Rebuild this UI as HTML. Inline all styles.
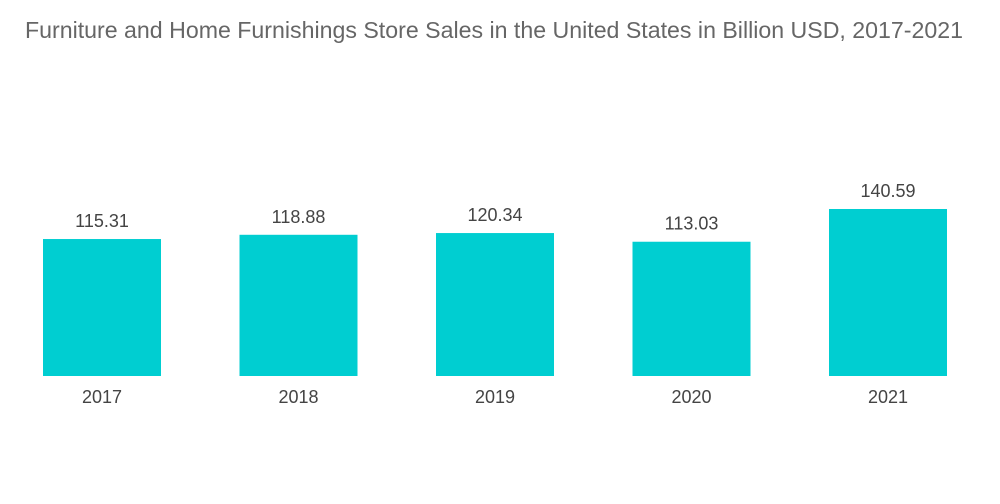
<!DOCTYPE html>
<html>
<head>
<meta charset="utf-8">
<style>
  html, body { margin: 0; padding: 0; background: #fff; }
  body { width: 1000px; height: 504px; overflow: hidden; font-family: "Liberation Sans", sans-serif; }
  svg { display: block; }
</style>
</head>
<body>
<svg id="chart" width="1000" height="504" viewBox="0 0 1000 504" xmlns="http://www.w3.org/2000/svg">
  <text x="25" y="38" font-size="23" fill="#666666" textLength="938" lengthAdjust="spacingAndGlyphs" font-family="Liberation Sans, sans-serif">Furniture and Home Furnishings Store Sales in the United States in Billion USD, 2017-2021</text>
  <g id="bars"></g>
</svg>
<script>
const categories = ["2017", "2018", "2019", "2020", "2021"];
const values = [115.31, 118.88, 120.34, 113.03, 140.59];
const valueLabels = ["115.31", "118.88", "120.34", "113.03", "140.59"];

const baseY = 376;
const pxPerUnit = 167 / 140.59;
const firstX = 43, step = 196.5, barW = 118;
function xScale(i) { return firstX + i * step; }
function yScale(v) { return baseY - v * pxPerUnit; }

const g = document.getElementById('bars');
const NS = 'http://www.w3.org/2000/svg';
categories.forEach((c, i) => {
  const x = xScale(i), y = yScale(values[i]);
  const r = document.createElementNS(NS, 'rect');
  
  
  r.setAttribute('x', x); r.setAttribute('y', y);
  r.setAttribute('width', barW); r.setAttribute('height', baseY - y);
  r.setAttribute('fill', '#00ced1');
  g.appendChild(r);

  const t = document.createElementNS(NS, 'text');
  
  
  t.setAttribute('x', x + barW / 2); t.setAttribute('y', y - 12);
  t.setAttribute('text-anchor', 'middle');
  t.setAttribute('font-size', '18'); t.setAttribute('fill', '#444');
  t.textContent = valueLabels[i];
  g.appendChild(t);

  const l = document.createElementNS(NS, 'text');
  
  
  l.setAttribute('x', x + barW / 2); l.setAttribute('y', 403);
  l.setAttribute('text-anchor', 'middle');
  l.setAttribute('font-size', '18'); l.setAttribute('fill', '#444');
  l.textContent = c;
  g.appendChild(l);
});
</script>
</body>
</html>
